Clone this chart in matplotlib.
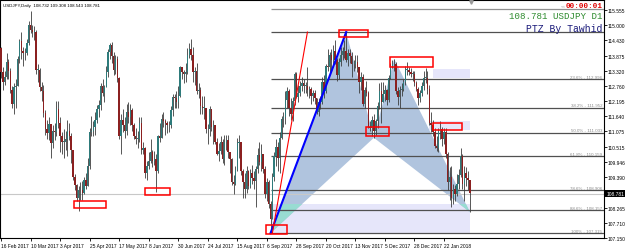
import matplotlib
matplotlib.use('Agg')
import matplotlib.pyplot as plt
import matplotlib.transforms as mtransforms
from matplotlib.patches import Polygon, Rectangle
import numpy as np

# ---------------- data ----------------
first_open = 114.15
closes = [
    113.25,112.90,113.10,113.65,113.30,112.60,112.10,112.70,112.75,113.75,
    114.40,114.05,113.95,113.95,114.35,115.00,114.80,114.75,114.75,113.35,
    113.35,112.70,112.55,111.75,111.15,111.00,111.35,110.65,111.10,111.05,
    111.90,111.40,110.90,110.70,110.70,110.80,111.10,110.90,110.40,109.40,
    109.10,108.60,108.90,108.90,108.80,109.30,109.05,109.80,111.05,111.10,
    111.25,111.50,111.90,112.05,112.75,112.50,112.70,113.25,114.00,114.25,
    113.85,113.35,113.75,113.05,110.90,111.50,111.30,111.10,111.80,111.60,
    111.85,111.30,110.90,110.80,110.80,111.40,110.40,110.45,109.55,109.80,
    110.00,110.30,110.00,110.05,109.60,110.90,110.85,111.55,111.45,111.40,
    111.30,111.30,111.85,112.35,112.30,112.15,112.40,113.45,113.25,113.20,
    113.25,113.90,114.10,113.90,113.25,113.30,112.55,112.60,112.00,111.95,
    111.95,111.15,111.15,111.90,111.25,111.30,110.70,110.25,110.35,110.70,
    110.05,110.70,110.75,110.30,110.05,109.20,109.15,109.65,110.65,110.70,
    109.60,109.20,108.95,109.60,109.05,109.55,109.35,109.25,109.70,110.20,
    109.95,110.25,109.70,108.75,109.20,108.40,107.85,109.40,110.15,110.50,
    110.10,110.85,111.55,111.60,112.25,112.55,111.95,111.70,112.20,113.20,
    112.35,112.50,112.75,112.85,112.75,112.75,112.60,112.65,112.40,112.50,
    112.30,111.80,112.15,112.15,112.90,112.55,113.50,113.45,113.90,113.70,
    114.05,113.70,113.15,113.65,113.90,114.05,114.05,113.70,113.95,113.85,
    113.55,113.55,113.65,113.45,112.90,113.10,112.10,112.60,112.50,111.25,
    111.20,111.50,111.10,111.45,112.00,112.55,112.15,112.45,112.60,112.25,
    113.05,113.50,113.55,113.55,112.55,112.35,112.60,112.65,112.90,113.35,
    113.35,113.25,113.20,113.20,112.85,112.65,112.30,112.50,112.75,113.05,
    113.05,112.65,111.40,111.30,111.05,110.55,110.45,111.10,111.15,110.80,
    111.05,110.25,109.20,109.40,108.60,108.95,108.75,109.15,109.45,110.15,
    109.15,109.55,109.35,109.30,108.80]
highs = [
    114.20,113.45,113.30,113.95,113.75,113.40,112.75,112.85,113.00,113.85,
    114.50,114.75,114.20,114.15,114.50,115.15,115.50,115.00,114.95,114.80,
    113.55,113.40,112.90,112.80,111.85,111.50,111.60,111.10,111.30,111.40,
    112.20,112.20,111.60,111.05,111.15,111.10,111.50,111.40,111.00,110.40,
    109.50,109.15,109.05,109.20,109.25,109.40,109.55,110.10,111.20,111.65,
    111.45,111.80,112.05,112.25,112.85,113.00,112.80,113.50,114.10,114.35,
    114.37,114.00,113.90,113.85,113.10,111.70,111.90,111.60,112.10,112.15,
    112.10,111.95,111.40,111.20,111.10,111.60,111.60,110.70,110.50,110.00,
    110.30,110.80,110.40,110.35,110.25,110.95,111.40,111.70,111.80,111.55,
    111.45,111.45,112.00,112.45,112.45,112.55,112.75,113.50,113.45,113.35,
    113.60,114.15,114.35,114.50,114.20,113.45,113.60,112.85,112.70,112.40,
    112.40,111.95,111.35,112.00,111.90,111.50,111.30,110.85,110.65,110.90,
    110.80,110.95,110.95,110.95,110.25,110.10,109.45,109.80,110.85,110.95,
    110.50,109.70,109.55,109.80,109.65,109.70,109.85,109.60,109.80,110.45,
    110.70,110.60,110.05,109.80,109.35,109.30,108.50,109.55,110.30,110.80,
    110.70,111.05,111.65,111.80,112.55,112.70,112.65,112.30,112.35,113.25,
    113.25,112.80,112.95,113.10,113.00,112.90,113.45,112.75,112.70,112.60,
    112.60,112.30,112.30,112.40,113.10,113.15,113.55,114.10,114.00,114.10,
    114.25,114.45,113.80,113.80,114.20,114.20,114.45,114.74,114.10,114.10,
    114.00,113.70,113.90,113.90,113.45,113.25,113.20,112.70,112.95,112.55,
    111.45,111.65,111.70,111.55,112.15,112.85,112.90,112.90,112.80,112.65,
    113.15,113.60,113.70,113.75,113.65,112.70,112.75,112.85,113.00,113.50,
    113.65,113.45,113.40,113.30,113.30,112.95,112.70,112.60,112.90,113.30,
    113.40,113.30,112.80,111.80,111.50,111.20,110.90,111.20,111.45,111.25,
    111.20,111.20,110.30,109.75,109.80,109.15,109.10,109.50,109.70,110.45,
    110.25,109.80,109.75,109.60,109.30]
lows = [
    113.05,112.60,112.80,113.00,113.00,112.50,111.95,111.70,111.95,112.75,
    113.60,113.75,113.50,113.70,113.90,114.25,114.70,114.55,114.45,113.20,
    112.90,112.55,112.20,111.60,110.95,110.80,110.75,110.10,110.45,110.75,
    110.90,111.20,110.30,110.25,110.10,110.40,110.15,110.75,109.90,109.30,
    108.90,108.50,108.15,108.55,108.55,108.75,108.95,109.40,109.70,110.90,
    110.90,110.95,111.40,111.60,111.85,112.40,112.15,112.70,113.10,113.75,
    113.60,113.15,113.20,112.90,110.80,110.25,111.05,110.85,110.95,111.40,
    111.30,111.10,110.80,110.60,110.45,110.70,110.25,110.25,109.35,109.30,
    109.70,109.90,109.75,109.85,108.85,109.55,110.70,110.90,111.25,110.95,
    111.00,111.05,111.20,111.65,111.95,111.95,111.95,112.35,113.00,112.85,
    112.90,113.20,113.80,113.70,112.90,112.80,112.45,112.30,111.70,111.70,
    111.55,111.00,110.60,110.90,111.10,110.60,110.60,110.20,110.00,110.25,
    109.90,109.85,110.40,110.10,109.55,109.10,108.75,109.10,109.60,110.10,
    109.45,108.60,108.60,108.80,108.95,109.00,109.15,108.95,108.30,109.55,
    109.85,109.60,109.55,108.60,108.50,108.25,107.32,108.15,109.25,109.80,
    109.60,109.55,110.80,111.25,111.35,111.95,111.65,111.50,111.45,112.05,
    112.30,112.15,112.40,112.55,112.50,112.50,112.40,112.30,112.10,112.20,
    112.10,111.70,111.65,111.90,112.10,112.30,112.50,113.30,113.25,113.35,
    113.45,113.55,112.95,113.00,113.50,113.70,113.80,113.65,113.50,113.60,
    113.10,113.30,113.40,113.25,112.50,112.60,112.00,111.95,112.40,111.20,
    111.10,110.90,110.84,110.95,111.20,111.90,111.40,112.20,112.20,112.05,
    112.15,113.00,113.40,113.30,112.45,112.05,111.95,112.40,112.55,112.80,
    113.15,113.15,113.10,112.95,112.75,112.55,112.05,112.15,112.40,112.60,
    112.85,112.45,111.30,111.05,110.90,110.45,110.35,110.30,110.80,110.55,
    110.60,110.10,108.90,108.55,108.30,108.40,108.50,108.70,108.95,109.40,
    108.95,108.50,109.05,108.90,108.10]

date_idx = list(range(0, 241, 16))
date_labels = ["16 Feb 2017", "10 Mar 2017", "3 Apr 2017", "25 Apr 2017", "17 May 2017",
               "8 Jun 2017", "30 Jun 2017", "24 Jul 2017", "15 Aug 2017", "6 Sep 2017",
               "28 Sep 2017", "20 Oct 2017", "13 Nov 2017", "5 Dec 2017", "28 Dec 2017",
               "22 Jan 2018"]
price_ticks = [115.555, 115.000, 114.430, 113.875, 113.320, 112.760, 112.195, 111.640,
               111.075, 110.515, 109.946, 109.390, 108.265, 107.710, 107.150]
current_price = 108.781
header = "USDJPY,Daily  108.732 109.308 108.543 108.781"

# XABCD pattern points (bar index, price)
pat_x = [146, 187, 202, 213, 254]
pat_y = [107.32, 114.74, 110.84, 113.75, 108.10]

# Fibonacci retracement X->A
fib_start = 146
fib_names = ["23.6%", "38.2%", "50.0%", "61.8%", "78.6%", "88.6%", "100%"]
fib_values = [112.996, 111.952, 111.033, 110.159, 108.906, 108.157, 107.315]
fib_top_levels = [114.751, 115.59]

# red line from X end point
red_line_x = [147, 166]
red_line_y = [107.32, 114.74]

# lavender zones: (x0, x1, y0, y1)
zone_x0 = [146, 234, 232]
zone_x1 = [254, 254, 254]
zone_y0 = [107.30, 113.05, 111.13]
zone_y1 = [108.41, 113.38, 111.46]

# red marker boxes
box_x0 = [39.5, 78.0, 143.5, 183.0, 198.0, 211.0, 234.0]
box_x1 = [56.9, 91.6, 155.0, 199.0, 210.0, 234.0, 250.0]
box_y0 = [108.25, 108.73, 107.30, 114.56, 110.91, 113.45, 111.13]
box_y1 = [108.51, 108.99, 107.62, 114.82, 111.24, 113.82, 111.39]

# ---------------- figure ----------------
SMALL = ['Liberation Sans', 'DejaVu Sans']
MONO = ['Liberation Mono', 'DejaVu Sans Mono']
fig = plt.figure(figsize=(6.25, 2.53), dpi=100)
fig.patch.set_facecolor('white')
ax = fig.add_axes([0, 14/253, 604/625, 238/253])
ax.set_xlim(-0.54, 326.66)
ax.set_ylim(107.142, 115.924)
for s in ax.spines.values():
    s.set_linewidth(0.8)
    s.set_color('#000000')

# lavender zones
for x0, x1, y0, y1 in zip(zone_x0, zone_x1, zone_y0, zone_y1):
    ax.add_patch(Rectangle((x0, y0), x1 - x0, y1 - y0, facecolor='#E6E6FA',
                           edgecolor='none', zorder=1))

# pattern triangles (+ blended colour where they overlap the lower zone)
tri1 = [(pat_x[0], pat_y[0]), (pat_x[1], pat_y[1]), (pat_x[2], pat_y[2])]
tri2 = [(pat_x[2], pat_y[2]), (pat_x[3], pat_y[3]), (pat_x[4], pat_y[4])]
for tri in (tri1, tri2):
    ax.add_patch(Polygon(tri, closed=True, facecolor='#B0C4DE', edgecolor='none', zorder=2))
    p = Polygon(tri, closed=True, facecolor='#98DCD2', edgecolor='none', zorder=2.2)
    ax.add_patch(p)
    clip = Rectangle((zone_x0[0], zone_y0[0]), zone_x1[0] - zone_x0[0],
                     zone_y1[0] - zone_y0[0], transform=ax.transData,
                     facecolor='none', edgecolor='none')
    p.set_clip_path(clip)

# current price line
ax.axhline(current_price, color='#C8C8C8', lw=0.8, zorder=2.5)

# fib lines
blend = mtransforms.blended_transform_factory(ax.transAxes, ax.transData)
xmax = ax.get_xlim()[1]
for v in fib_values + fib_top_levels[:1]:
    ax.plot([fib_start, xmax], [v, v], color='#505050', lw=0.9, zorder=3,
            solid_capstyle='butt')
ax.plot([fib_start, xmax], [fib_top_levels[1]] * 2, color='#909090', lw=0.9,
        zorder=3, solid_capstyle='butt')
for nm, v in zip(fib_names, fib_values):
    ax.text(0.997, v + 0.02, f"{nm} - {v:.3f}", transform=blend, ha='right', va='bottom',
            fontsize=3.2, color='#8A8A8A', family=SMALL, zorder=7)

# candles
n = len(closes)
opens = [first_open] + closes[:-1]
for i in range(n):
    o, c = opens[i], closes[i]
    hi = max(highs[i], o, c)
    lo = min(lows[i], o, c)
    bull = c >= o
    ax.plot([i, i], [lo, hi], color='#3C3C3C', lw=0.6, zorder=4, solid_capstyle='butt')
    body = max(abs(c - o), 0.02)
    ax.add_patch(Rectangle((i - 0.38, min(o, c)), 0.76, body,
                           facecolor='#2E7B7B' if bull else '#8B2020',
                           edgecolor='none', zorder=4.5))

# XA leg and red line
ax.plot(pat_x[:2], pat_y[:2], color='#0000FF', lw=1.5, zorder=5)
ax.plot(red_line_x, red_line_y, color='#FF0000', lw=0.8, zorder=5)

# red boxes
for x0, x1, y0, y1 in zip(box_x0, box_x1, box_y0, box_y1):
    ax.add_patch(Rectangle((x0, y0), x1 - x0, y1 - y0, facecolor='none',
                           edgecolor='#FF0000', lw=1.1, zorder=6))

# axes ticks
ax.set_xticks(date_idx)
ax.set_xticklabels(date_labels, fontsize=3.5, family=SMALL, ha='left')
ax.tick_params(axis='x', length=2, width=0.6, pad=1.8, direction='out')
ax.yaxis.tick_right()
ax.set_yticks(price_ticks)
ax.set_yticklabels([f"{p:.3f}" for p in price_ticks], fontsize=3.5, family=SMALL)
ax.tick_params(axis='y', length=2, width=0.6, pad=0.8, direction='out')
ax.text(1.004, current_price, f"{current_price:.3f}", transform=blend, ha='left',
        va='center', fontsize=3.5, family=SMALL, color='white',
        bbox=dict(facecolor='black', edgecolor='none', pad=0.8), zorder=8, clip_on=False)

# texts
ax.text(0.005, 0.987, header, transform=ax.transAxes, ha='left', va='top', fontsize=3.2,
        family=SMALL, color='black', zorder=8)
ax.text(0.997, 0.992, "00:00:01", transform=ax.transAxes, ha='right', va='top',
        fontsize=5.5, family=MONO, color='#E00000', fontweight='bold', zorder=8)
ax.text(0.937, 0.988, "<<", transform=ax.transAxes, ha='right', va='top',
        fontsize=3.2, family=SMALL, color='#A0A0A0', zorder=8)
ax.text(0.997, 0.955, "108.781 USDJPY D1", transform=ax.transAxes, ha='right', va='top',
        fontsize=6.6, family=MONO, color='#2E8B2E', zorder=8)
ax.text(0.997, 0.905, "PTZ By Tawhid", transform=ax.transAxes, ha='right', va='top',
        fontsize=7, family=MONO, color='#1A1A7A', zorder=8)
ax.plot([254.6], [0.99],
        transform=mtransforms.blended_transform_factory(ax.transData, ax.transAxes),
        marker='v', markersize=2.5, color='#9A9A9A', zorder=8, clip_on=False)

fig.savefig('out.png', dpi=100)
